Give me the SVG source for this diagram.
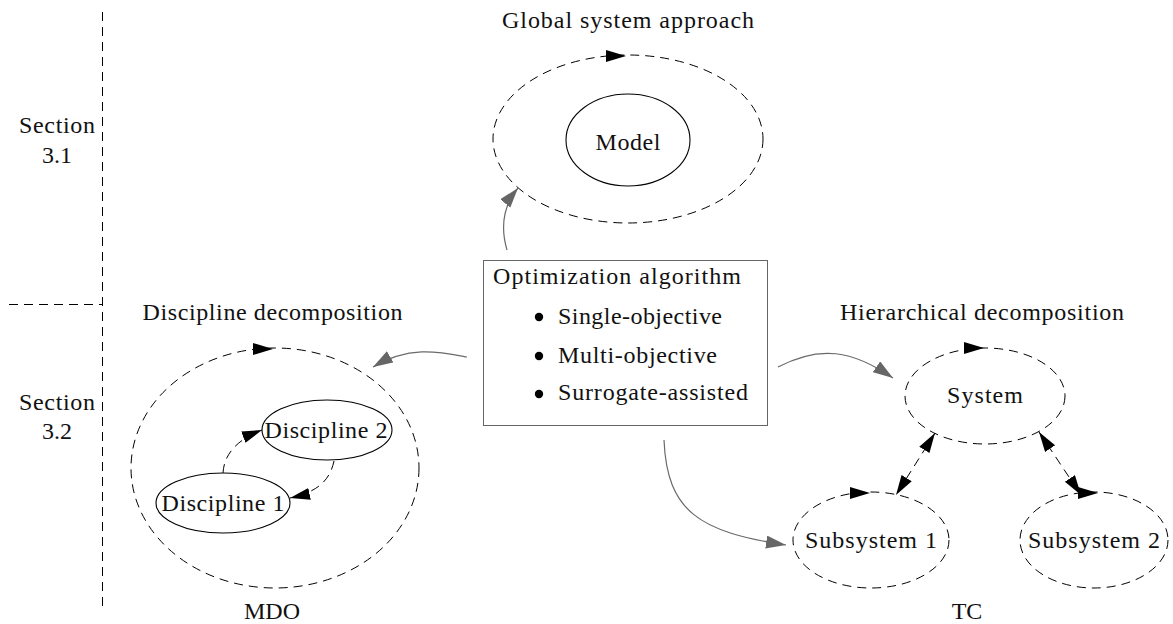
<svg xmlns="http://www.w3.org/2000/svg" width="1173" height="624" viewBox="0 0 1173 624">
<style>
text{font-family:"Liberation Serif","Times New Roman",serif;font-size:24px;fill:#111}
.c{text-anchor:middle}
.dash{fill:none;stroke:#000;stroke-width:1;stroke-dasharray:9 6}
.solid{fill:none;stroke:#000;stroke-width:1.1}
.gray{fill:none;stroke:#6a6a6a;stroke-width:1.2}
.head{fill:#000}
</style>
<defs>
<marker id="blk" markerUnits="userSpaceOnUse" markerWidth="22" markerHeight="14" refX="20" refY="6" orient="auto-start-reverse"><path d="M0,0 L20,6 L0,12 z" fill="#000"/></marker>
<marker id="gry" markerUnits="userSpaceOnUse" markerWidth="22" markerHeight="14" refX="20" refY="6.5" orient="auto"><path d="M0,0 L20,6.5 L0,13 z" fill="#666"/></marker>
</defs>
<rect width="1173" height="624" fill="#fff"/>

<g id="sections">
<path class="dash" d="M102.5,12 V607"/>
<path class="dash" d="M9,304.5 H102.5"/>
<text class="c" x="57" y="133" textLength="76">Section</text>
<text class="c" x="57" y="163">3.1</text>
<text class="c" x="57" y="410" textLength="76">Section</text>
<text class="c" x="57" y="439">3.2</text>
</g>

<g id="global">
<text class="c" x="628" y="28" textLength="252">Global system approach</text>
<ellipse class="dash" cx="628" cy="139" rx="135" ry="84"/>
<path class="head" d="M606,50 L626,56 L606,62 z"/>
</g>
<g id="model">
<ellipse class="solid" cx="628" cy="140" rx="62" ry="46"/>
<text class="c" x="628" y="150" textLength="65">Model</text>
</g>

<g id="optimizer">
<rect x="483.5" y="260.5" width="284" height="165" fill="#fff" stroke="#666" stroke-width="1"/>
<text x="493" y="284" textLength="248">Optimization algorithm</text>
<circle cx="539" cy="317" r="4.2" fill="#000"/>
<text x="558" y="324" textLength="164">Single-objective</text>
<circle cx="539" cy="356" r="4.2" fill="#000"/>
<text x="558" y="363" textLength="159">Multi-objective</text>
<circle cx="539" cy="394" r="4.2" fill="#000"/>
<text x="558" y="400" textLength="190">Surrogate-assisted</text>
</g>

<g id="mdo">
<text class="c" x="272.5" y="320" textLength="260">Discipline decomposition</text>
<ellipse class="dash" cx="275" cy="468" rx="144" ry="120"/>
<path class="head" d="M253,343 L273,349 L253,355 z"/>
<text class="c" x="272" y="619">MDO</text>
</g>
<g id="discipline2">
<ellipse class="solid" cx="327" cy="430" rx="65" ry="30"/>
<text class="c" x="326" y="438" textLength="123">Discipline 2</text>
</g>
<g id="discipline1">
<ellipse class="solid" cx="223" cy="503" rx="67" ry="30"/>
<text class="c" x="223" y="511" textLength="123">Discipline 1</text>
</g>

<g id="tc">
<text class="c" x="982" y="320" textLength="284">Hierarchical decomposition</text>
<text class="c" x="967" y="619">TC</text>
</g>
<g id="system">
<ellipse class="dash" cx="985" cy="396" rx="80" ry="48"/>
<path class="head" d="M964,342 L984,348 L964,354 z"/>
<text class="c" x="985" y="403" textLength="76">System</text>
</g>
<g id="subsystem1">
<ellipse class="dash" cx="871" cy="540" rx="78" ry="48"/>
<path class="head" d="M850,487 L870,493 L850,499 z"/>
<text class="c" x="871" y="548" textLength="132">Subsystem 1</text>
</g>
<g id="subsystem2">
<ellipse class="dash" cx="1094" cy="540" rx="74" ry="48"/>
<path class="head" d="M1078,487 L1098,493 L1078,499 z"/>
<text class="c" x="1094" y="548" textLength="132">Subsystem 2</text>
</g>

<g id="connectors">
<path class="gray" d="M507,250 C500,226 504,205 518,188" marker-end="url(#gry)"/>
<path class="gray" d="M467,357 C440,352 410,345 373,367" marker-end="url(#gry)"/>
<path class="gray" d="M778,367 C820,345 852,350 893,378" marker-end="url(#gry)"/>
<path class="gray" d="M664,440 C667,512 700,532 786,545" marker-end="url(#gry)"/>
<path class="dash" d="M223,473 C224,455 236,440 262,430" marker-end="url(#blk)"/>
<path class="dash" d="M334,461 C330,480 318,492 290,498" marker-end="url(#blk)"/>
<path class="dash" d="M935,433 L896,495" marker-start="url(#blk)" marker-end="url(#blk)"/>
<path class="dash" d="M1039,432 L1081,495" marker-start="url(#blk)" marker-end="url(#blk)"/>
</g>
</svg>
